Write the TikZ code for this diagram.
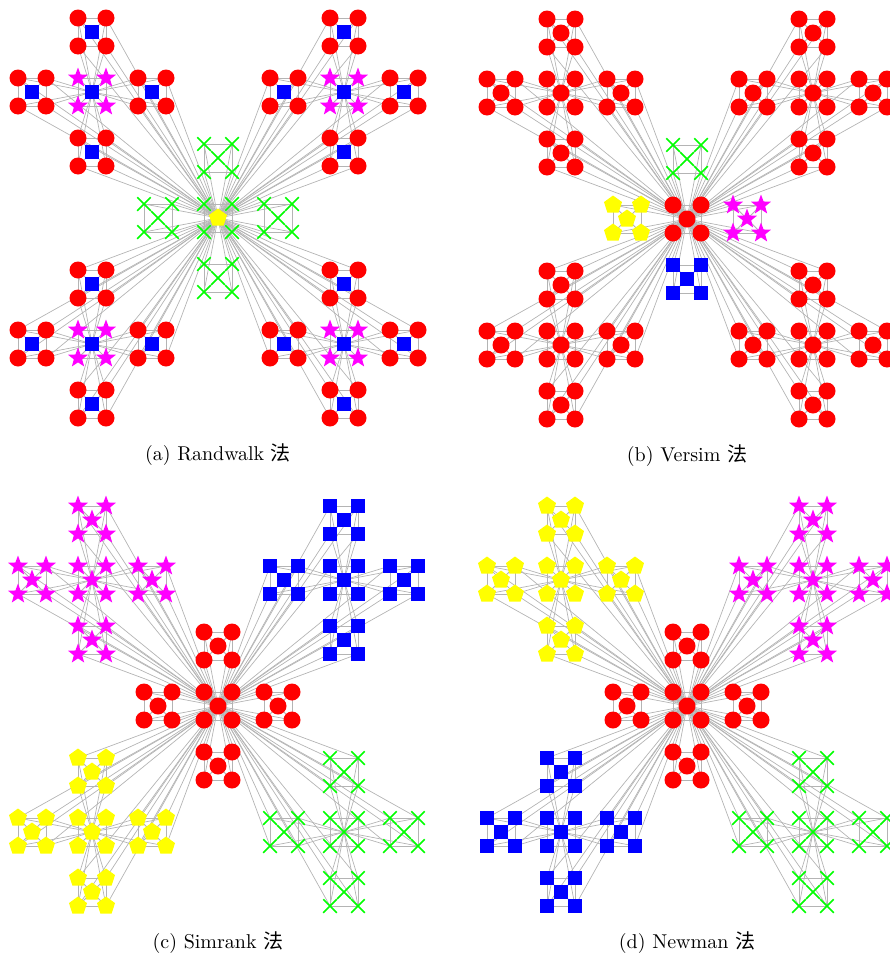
\documentclass[tikz,border=0pt]{standalone}
\usepackage{fontspec}
\newfontfamily\cjk{Noto Sans CJK SC}
\usetikzlibrary{shapes.geometric, shapes.misc, backgrounds}

\definecolor{nred}{RGB}{255,0,0}
\definecolor{nblue}{RGB}{0,0,255}
\definecolor{nmagenta}{RGB}{255,0,255}
\definecolor{nyellow}{RGB}{255,255,0}
\definecolor{ngreen}{RGB}{0,255,0}
\definecolor{linkgray}{RGB}{180,180,180}

% node look: #1 cluster, #2 module, #3 position -> \sty
\newcommand{\pickA}[3]{%
  \ifnum#1=0
    \ifnum#2#3=00 \def\sty{ynode}\else\def\sty{gnode}\fi
  \else
    \ifnum#3=0 \def\sty{bnode}\else
      \ifnum#2=0 \def\sty{mnode}\else\def\sty{rnode}\fi
    \fi
  \fi}
\newcommand{\pickB}[3]{%
  \ifnum#1=0
    \ifcase#2 \def\sty{rnode}\or\def\sty{gnode}\or\def\sty{bnode}\or
      \def\sty{ynode}\or\def\sty{mnode}\fi
  \else\def\sty{rnode}\fi}
\newcommand{\pickC}[3]{%
  \ifcase#1 \def\sty{rnode}\or\def\sty{mnode}\or\def\sty{bnode}\or
    \def\sty{ynode}\or\def\sty{gnode}\fi}
\newcommand{\pickD}[3]{%
  \ifcase#1 \def\sty{rnode}\or\def\sty{ynode}\or\def\sty{mnode}\or
    \def\sty{bnode}\or\def\sty{gnode}\fi}

% one hierarchical network: #1 name, #2/#3 centre, #4 picker, #5 caption
\newcommand{\drawpanel}[5]{%
  \foreach \c/\cx/\cy in {0/0/0,1/-126/-126,2/126/-126,3/-126/126,4/126/126}
    \foreach \m/\mx/\my in {0/0/0,1/0/-60,2/0/60,3/-60/0,4/60/0}
      \foreach \p/\px/\py in {0/0/0,1/-14/-14,2/14/-14,3/-14/14,4/14/14}{
        #4{\c}{\m}{\p}
        \node[\sty] (#1-\c-\m-\p) at (#2+\cx+\mx+\px, #3+\cy+\my+\py) {};
      }
  \begin{scope}[on background layer]
    % modules
    \foreach \c in {0,...,4}
      \foreach \m in {0,...,4}
        \foreach \i/\j in {0/1,0/2,0/3,0/4,1/2,1/3,1/4,2/3,2/4,3/4}
          \draw[link] (#1-\c-\m-\i.center) -- (#1-\c-\m-\j.center);
    % second level
    \foreach \c in {0,...,4}
      \foreach \m in {1,...,4}
        \foreach \p in {1,...,4}
          \draw[link] (#1-\c-\m-\p.center) -- (#1-\c-0-0.center);
    % third level
    \foreach \c in {1,...,4}
      \foreach \m in {1,...,4}
        \foreach \p in {1,...,4}
          \draw[link] (#1-\c-\m-\p.center) -- (#1-0-0-0.center);
  \end{scope}
  \node[captext] (cap#1) at (#2, #3+237) {#5};
}

\begin{document}
\begin{tikzpicture}[x=0.5pt, y=-0.5pt,
    rnode/.style={circle, fill=nred, inner sep=0pt, minimum size=8.5pt},
    bnode/.style={rectangle, fill=nblue, inner sep=0pt, minimum size=7pt},
    mnode/.style={star, star points=5, star point ratio=2.4, fill=nmagenta,
                  inner sep=0pt, minimum size=10.5pt},
    ynode/.style={regular polygon, regular polygon sides=5, fill=nyellow,
                  inner sep=0pt, minimum size=9.5pt},
    gnode/.style={cross out, draw=ngreen, line width=0.75pt,
                  inner sep=0pt, minimum size=6pt},
    link/.style={draw=linkgray, line width=0.35pt},
    captext/.style={font=\fontsize{10}{12}\selectfont}
  ]
  \useasboundingbox (0,0) rectangle (889,953);

  \drawpanel{a}{218}{218}{\pickA}{(a) Randwalk {\cjk 法}}
  \drawpanel{b}{687}{219}{\pickB}{(b) Versim {\cjk 法}}
  \drawpanel{c}{218}{706}{\pickC}{(c) Simrank {\cjk 法}}
  \drawpanel{d}{687}{706}{\pickD}{(d) Newman {\cjk 法}}
\end{tikzpicture}
\end{document}
